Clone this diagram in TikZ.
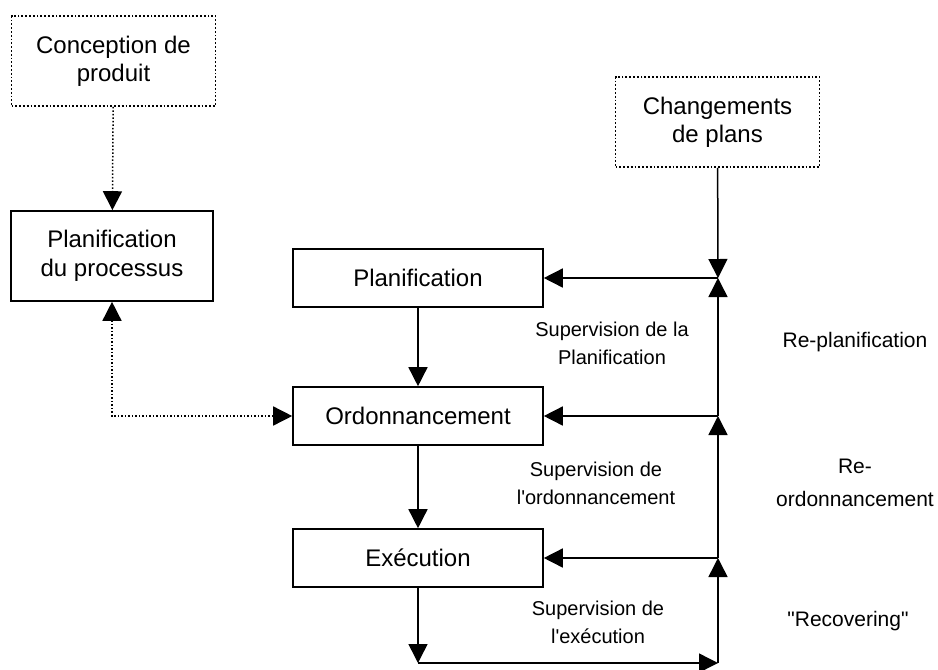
\documentclass[tikz,border=0pt]{standalone}
\usepackage{fontspec}
\setmainfont{Liberation Sans}
\usetikzlibrary{arrows.meta}

\begin{document}
\begin{tikzpicture}[x=0.5pt, y=-0.5pt, >={Triangle[width=9.5pt,length=9.5pt]},
    blk/.style={draw, line width=0.8pt, minimum width=125pt, minimum height=29pt, align=center, font=\fontsize{12}{14.5}\selectfont},
    dotblk/.style={draw, densely dotted, line width=0.9pt, minimum width=102pt, minimum height=45pt, align=center, font=\fontsize{12}{14}\selectfont},
    suplbl/.style={align=center, font=\fontsize{10}{14}\selectfont},
    relbl/.style={align=center, font=\fontsize{10.5}{16.5}\selectfont},
    fl/.style={line width=0.75pt, ->},
    dfl/.style={line width=0.75pt, densely dotted}]
    \useasboundingbox (0,0) rectangle (938,670);
        % boites
        \node[dotblk] (conc) at (113.5, 61) {Conception de\\produit};
        \node[blk, minimum width=101pt, minimum height=45pt] (proc) at (112, 256) {Planification\\du processus};
        \node[dotblk] (chg) at (717.5, 122) {Changements\\de plans};
        \node[blk] (plan) at (418, 278) {Planification};
        \node[blk] (ordo) at (418, 416) {Ordonnancement};
        \node[blk] (exe) at (418, 558) {Exécution};
        % points de la boucle
        \coordinate (jP) at (718, 278);
        \coordinate (jO) at (718, 416);
        \coordinate (jE) at (718, 558);
        \coordinate (jB) at (718, 663);
        \coordinate (jX) at (418, 663);
        % fleches
        \draw[dfl, ->] (conc) -- (proc);
        \draw[dfl, <->] (proc.south) |- (ordo.west);
        \draw[fl] (chg) -- (jP);
        \draw[fl] (jP) -- (plan);
        \draw[fl] (jO) -- (jP);
        \draw[fl] (jO) -- (ordo);
        \draw[fl] (jE) -- (jO);
        \draw[fl] (jE) -- (exe);
        \draw[fl] (jB) -- (jE);
        \draw[fl] (plan) -- (ordo);
        \draw[fl] (ordo) -- (exe);
        \draw[fl] (exe) -- (jX);
        \draw[fl] (jX) -- (jB);
        % textes
        \node[suplbl] (sup1) at (612, 343) {Supervision de la\\Planification};
        \node[suplbl] (sup2) at (596, 483) {Supervision de\\l\textquotesingle ordonnancement};
        \node[suplbl] (sup3) at (598, 622) {Supervision de\\l\textquotesingle exécution};
        \node[relbl] (re1) at (855, 342) {Re-planification};
        \node[relbl] (re2) at (855, 483) {Re-\\ordonnancement};
        \node[relbl] (re3) at (848, 621) {\textquotedbl Recovering\textquotedbl};
    \end{tikzpicture}
\end{document}
